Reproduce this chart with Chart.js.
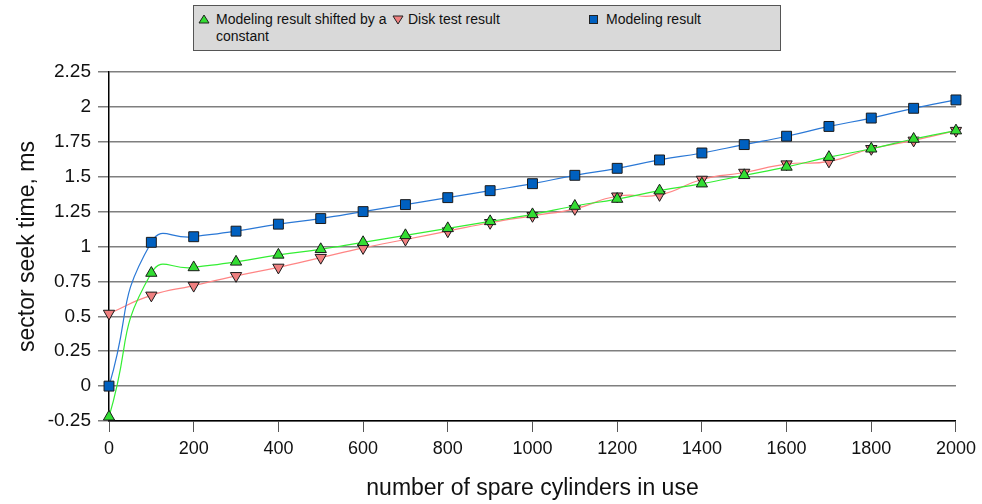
<!DOCTYPE html>
<html>
<head>
<meta charset="utf-8">
<script src="https://cdn.jsdelivr.net/npm/chart.js@4"></script>
<style>
  body { margin: 0; background: #fff; }
  #wrap { position: relative; width: 982px; height: 504px; }
  #legend {
    position: absolute; left: 193px; top: 5px; width: 586px; height: 44px;
    background: #d9d9d9; border: 1px solid #555;
    font: 14px "Liberation Sans", Arial, sans-serif; color: #111;
  }
  .item { position: absolute; top: 5px; line-height: 17px; }
  .sym { position: absolute; left: 0; top: 0; }
  .txt { position: absolute; left: 19px; top: 0; }
</style>
</head>
<body>
<div id="wrap">
  <canvas id="seekChart" width="982" height="504"></canvas>
  <div id="legend">
    <div class="item" style="left:3px;width:195px">
      <svg class="sym" width="14" height="17"><polygon points="7,4 12,12 2,12" fill="#33dd33" stroke="#222" stroke-width="1"/></svg>
      <div class="txt" style="width:180px">Modeling result shifted by a constant</div>
    </div>
    <div class="item" style="left:197px;width:200px">
      <svg class="sym" width="14" height="17"><polygon points="2,5 12,5 7,13" fill="#f08080" stroke="#222" stroke-width="1"/></svg>
      <div class="txt" style="white-space:nowrap;left:17px">Disk test result</div>
    </div>
    <div class="item" style="left:393px;width:190px">
      <svg class="sym" width="14" height="17"><rect x="2.5" y="4.5" width="8" height="8" fill="#0060c0" stroke="#222" stroke-width="1"/></svg>
      <div class="txt" style="white-space:nowrap">Modeling result</div>
    </div>
  </div>
</div>
<script>
// x positions: number of spare cylinders in use
const cylinders = [0, 100, 200, 300, 400, 500, 600, 700, 800, 900, 1000,
  1100, 1200, 1300, 1400, 1500, 1600, 1700, 1800, 1900, 2000];

const shiftedModel = [-0.22, 0.81, 0.85, 0.89, 0.94, 0.98, 1.03, 1.08, 1.13, 1.18, 1.23,
  1.29, 1.34, 1.40, 1.45, 1.51, 1.57, 1.64, 1.70, 1.77, 1.83];
const diskTest = [0.52, 0.65, 0.72, 0.79, 0.85, 0.92, 0.99, 1.05, 1.11, 1.17, 1.22,
  1.27, 1.36, 1.37, 1.48, 1.53, 1.59, 1.61, 1.70, 1.76, 1.83];
const modeling = [0.0, 1.03, 1.07, 1.11, 1.16, 1.20, 1.25, 1.30, 1.35, 1.40, 1.45,
  1.51, 1.56, 1.62, 1.67, 1.73, 1.79, 1.86, 1.92, 1.99, 2.05];

const xTicks = [0, 200, 400, 600, 800, 1000, 1200, 1400, 1600, 1800, 2000];
const yTicks = [-0.25, 0, 0.25, 0.5, 0.75, 1, 1.25, 1.5, 1.75, 2, 2.25];

const pts = (ys) => cylinders.map((x, i) => ({ x: x, y: ys[i] }));
const font = "'Liberation Sans', Arial, sans-serif";

new Chart(document.getElementById('seekChart').getContext('2d'), {
  type: 'line',
  data: {
    datasets: [
      {
        label: 'Modeling result',
        data: pts(modeling),
        borderColor: '#2a78d6', backgroundColor: '#0060c0',
        pointStyle: 'rect', pointRadius: 7, pointBorderColor: '#1a1a1a', pointBorderWidth: 1,
        borderWidth: 1.2, tension: 0.55
      },
      {
        label: 'Modeling result shifted by a constant',
        data: pts(shiftedModel),
        borderColor: '#33ee33', backgroundColor: '#33dd33',
        pointStyle: 'triangle', pointRadius: 6.5, pointBorderColor: '#1a1a1a', pointBorderWidth: 1,
        borderWidth: 1.2, tension: 0.55
      },
      {
        label: 'Disk test result',
        data: pts(diskTest),
        borderColor: '#ff8585', backgroundColor: '#f08080',
        pointStyle: 'triangle', rotation: 180, pointRadius: 6.5, pointBorderColor: '#1a1a1a', pointBorderWidth: 1,
        borderWidth: 1.2, tension: 0.55
      }
    ]
  },
  options: {
    responsive: false,
    animation: false,
    clip: false,
    layout: { padding: { left: 0, right: 25, top: 72, bottom: 0 } },
    plugins: { legend: { display: false }, tooltip: { enabled: false } },
    scales: {
      x: {
        type: 'linear', min: 0, max: 2000,
        afterBuildTicks: (axis) => { axis.ticks = xTicks.map(v => ({ value: v })); },
        afterFit: (axis) => { axis.height = 83; },
        grid: { drawOnChartArea: false, drawTicks: true, tickLength: 11, color: '#555', lineWidth: 1 },
        border: { color: '#000', width: 1.5 },
        ticks: { color: '#111', font: { family: font, size: 18 }, padding: 6, maxRotation: 0,
          callback: (v) => String(v) },
        title: { display: true, text: 'number of spare cylinders in use', color: '#111',
          font: { family: font, size: 23 }, padding: { top: 0, bottom: 2 } }
      },
      y: {
        type: 'linear', min: -0.25, max: 2.25,
        afterBuildTicks: (axis) => { axis.ticks = yTicks.map(v => ({ value: v })); },
        afterFit: (axis) => { axis.width = 109; },
        grid: { color: '#7f7f7f', lineWidth: 1.5, tickLength: 11, drawTicks: true },
        border: { color: '#000', width: 1.5 },
        ticks: { color: '#111', font: { family: font, size: 19 }, padding: 7,
          callback: (v) => String(v) },
        title: { display: true, text: 'sector seek time, ms', color: '#111',
          font: { family: font, size: 23 }, padding: { top: 14, bottom: 0 } }
      }
    }
  }
});
</script>
</body>
</html>
